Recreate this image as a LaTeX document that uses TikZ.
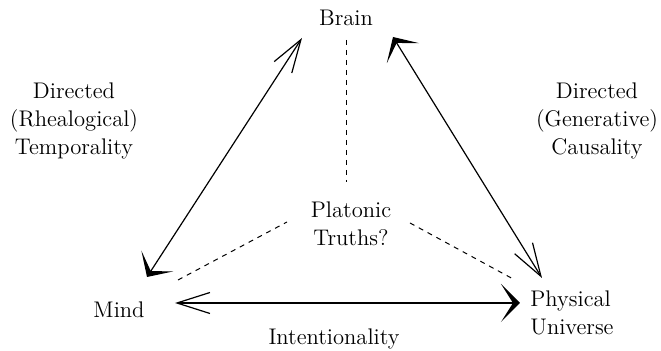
\documentclass[tikz,border=0pt]{standalone}
\usepackage{tikz}
\usetikzlibrary{arrows.meta,positioning}
\tikzset{
  tri/label/.style={align=center, inner sep=0pt, font=\fontsize{11.3}{14}\selectfont},
  tri/link/.style={line width=0.6pt},
  tri/hint/.style={line width=0.5pt, dash pattern=on 2.5pt off 2.5pt},
  tri/ends/.style={arrows={Stealth[length=9.5pt,width=19pt,inset=6pt]-Straight Barb[length=16.5pt,width=10.5pt]}}
}

\begin{document}
\begin{tikzpicture}[x=0.5pt, y=-0.5pt]
\useasboundingbox (0,0) rectangle (661,351);
% corners and middle
\node[tri/label, anchor=base] (brain) at (346,26) {Brain};
\node[tri/label, anchor=base] (mind) at (119,318) {Mind};
\node[tri/label, align=left] (phys) at (572,313.4) {Physical\\Universe};
\node[tri/label] (plato) at (351,223.5) {Platonic\\Truths?};
% edge labels
\node[tri/label] (tempo) at (74,120.5) {Directed\\(Rhealogical)\\Temporality};
\node[tri/label] (causa) at (597,120.5) {Directed\\(Generative)\\Causality};
\node[tri/label, anchor=base] (inten) at (334,345) {Intentionality};
% arrow ends
\coordinate (mindA) at (147,277);
\coordinate (brainA) at (302,38);
\coordinate (brainB) at (393,37);
\coordinate (physB) at (542,278);
\coordinate (mindC) at (175,303);
\coordinate (physC) at (520,303);
\draw[tri/link, tri/ends] (mindA) -- (brainA);
\draw[tri/link, tri/ends] (brainB) -- (physB);
\draw[tri/link, tri/ends] (physC) -- (mindC);
% dashed spokes
\coordinate (brainD) at (347,40);
\coordinate (platoT) at (347,182);
\coordinate (mindD) at (178,280);
\coordinate (platoL) at (287,222);
\coordinate (platoR) at (410,223);
\coordinate (physD) at (515,280);
\draw[tri/hint] (brainD) -- (platoT);
\draw[tri/hint] (mindD) -- (platoL);
\draw[tri/hint] (platoR) -- (physD);
\end{tikzpicture}
\end{document}
